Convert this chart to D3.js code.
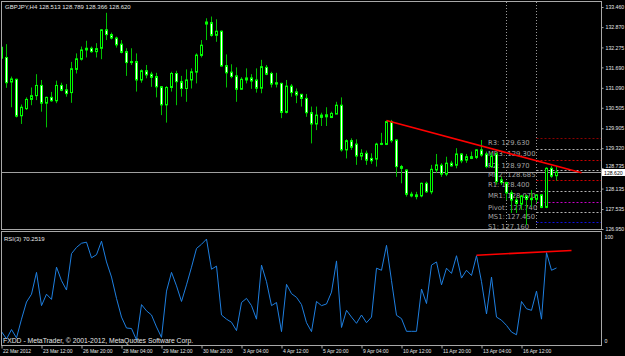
<!DOCTYPE html>
<html><head><meta charset="utf-8">
<script src="https://cdn.jsdelivr.net/npm/d3@7"></script>
<style>html,body{margin:0;padding:0;background:#000;overflow:hidden}svg{display:block}</style>
</head><body><svg id="c" width="625" height="356"></svg>
<script>
// ---------------- DATA ----------------
const title = "GBPJPY,H4 128.513 128.789 128.366 128.620";
const rsiTitle = "RSI(3) 70.2519";
const copyright = "FXDD - MetaTrader, \u00A9 2001-2012, MetaQuotes Software Corp.";

const opens = [
132.28,131.98,131.26,131.34,130.27,130.48,130.75,130.86,131.16,130.64,
130.81,130.71,131.16,131.03,130.95,131.63,131.93,132.20,132.25,132.15,
132.25,132.79,132.65,132.55,132.37,132.15,131.83,131.86,131.32,131.59,
131.49,131.42,131.12,130.59,131.10,131.51,131.27,131.07,131.32,131.55,
132.04,132.96,133.00,132.63,132.75,131.74,131.55,131.44,131.05,131.32,
131.38,131.32,131.08,131.69,131.51,131.20,131.22,130.37,131.14,130.97,
130.90,130.78,130.36,130.03,130.29,130.24,130.22,130.32,130.58,129.27,
129.54,129.44,129.09,129.17,129.02,129.00,129.43,129.43,130.10,129.56,
128.78,128.68,127.97,127.95,127.92,128.29,128.04,128.68,128.82,128.56,
128.88,128.82,129.15,128.97,129.07,129.05,129.27,129.15,128.78,129.15,
128.39,128.31,128.01,127.80,127.68,127.92,127.85,127.82,127.95,127.585,
128.73,128.513];
const highs = [
132.32,132.37,131.42,131.36,130.60,130.81,131.10,131.49,131.32,130.83,
130.97,131.30,131.24,131.20,131.85,132.10,132.30,132.47,132.30,132.40,
132.81,133.29,132.71,132.59,132.49,132.25,132.25,132.10,131.63,131.76,
131.56,131.53,131.14,131.14,131.56,131.59,131.44,131.63,131.66,132.10,
132.49,133.13,133.18,133.10,132.77,132.07,131.78,131.69,131.40,131.66,
131.49,131.66,131.91,131.76,131.56,131.53,131.24,131.32,131.20,131.07,
130.91,130.91,130.54,130.54,130.36,130.52,130.39,130.68,130.81,129.58,
129.61,129.58,129.29,129.25,129.17,129.48,129.77,130.13,130.15,129.58,
128.83,128.70,128.04,128.04,128.31,128.34,128.83,129.15,128.88,129.07,
128.95,129.32,129.17,129.15,129.22,129.29,129.56,129.22,129.20,129.20,
128.48,128.34,128.09,127.89,127.95,127.95,128.09,127.97,127.97,128.76,
128.80,128.789];
const lows = [
131.88,131.09,130.52,130.22,130.03,130.44,130.58,130.73,130.39,129.93,
130.68,130.64,130.99,130.83,130.65,131.51,131.89,131.98,132.12,131.98,
131.93,132.49,132.51,132.27,132.10,131.44,131.76,130.98,131.24,131.37,
131.12,130.81,130.29,130.07,130.98,130.58,130.83,130.68,131.07,131.22,
131.98,132.49,132.59,132.44,131.71,131.10,131.37,130.68,131.03,131.22,
131.06,130.95,130.93,131.46,131.10,131.10,130.20,130.34,130.83,130.64,
130.54,130.24,129.46,129.85,129.97,129.97,130.20,130.32,129.22,129.02,
129.27,128.83,128.97,128.83,128.86,128.78,129.41,129.41,129.48,128.48,
128.29,127.90,127.88,127.82,127.88,128.01,127.97,128.60,128.48,128.50,
128.78,128.73,128.88,128.89,129.00,129.00,129.07,128.73,128.75,128.25,
128.24,127.80,127.42,127.42,127.51,127.07,127.60,127.71,127.56,127.56,
128.45,128.366];
const closes = [
131.96,131.24,131.35,130.26,130.52,130.75,130.86,131.16,130.64,130.81,
130.71,131.16,131.02,130.92,131.65,131.94,132.20,132.25,132.15,132.24,
132.79,132.65,132.55,132.35,132.13,131.83,131.86,131.32,131.59,131.47,
131.40,131.12,130.59,131.10,131.51,131.27,131.07,131.32,131.56,132.05,
132.34,133.02,132.63,132.75,131.73,131.53,131.42,131.05,131.34,131.38,
131.29,131.08,131.71,131.49,131.20,131.24,130.37,131.14,130.95,130.88,
130.78,130.36,130.03,130.29,130.225,130.30,130.34,130.58,129.27,129.54,
129.35,129.09,129.17,128.97,128.95,129.44,129.46,130.10,129.54,128.78,
128.73,127.97,127.92,127.90,128.29,128.04,128.70,128.83,128.56,128.88,
128.80,129.15,128.95,129.07,129.02,129.27,129.12,128.78,129.09,128.34,
128.31,128.01,127.80,127.70,127.92,127.82,127.81,127.95,127.585,128.73,
128.50,128.620];
const rsiValues = [
9,2,11,3,21,37.5,45,66,34,45,
40,71,58,49,84,90,94,95,80,83,
96,76,61.5,41,23,12.5,12,1,35,29,
25,13.5,3.5,48,66,53,38,54,71,89,
93,98,69,72,25,21,18,10,37,41,
34,21,73,57,34,37,9,54.5,45.5,42,
35,17.6,9,38,34,35.6,47,77,13,29.5,
23,17,25,17.6,23,70,68,92,58,24.7,
21.5,9.3,9.3,9.3,50,36,73,76,54,70,
65,82,60.5,68,63,82,57,26,61.5,23,
20,15,8.6,6,38,31,29.5,48,21,85,
68,70.2519];

const timeLabels = ["22 Mar 2012","23 Mar 12:00","26 Mar 20:00","28 Mar 04:00","29 Mar 12:00","30 Mar 20:00","3 Apr 04:00","4 Apr 12:00","5 Apr 20:00","9 Apr 04:00","10 Apr 12:00","11 Apr 20:00","13 Apr 04:00","16 Apr 12:00"];
const timeLabelBars = [0,8,16,24,32,40,48,56,64,72,80,88,96,104];
const priceTicks = [133.460,132.870,132.275,131.690,131.090,130.505,129.905,129.320,128.735,128.135,127.535,126.950];
const rsiTicks = [100,0];
const lastPrice = 128.620;

const pivotNames = ["R3","MR3","R2","MR2","R1","MR1","Pivot","MS1","S1"];
const pivotValues = [129.630,129.300,128.970,128.685,128.400,128.070,127.740,127.450,127.160];
const pivotStartBar = 107;
const daySeparatorBars = [101,107];

const trendMain = [[77,130.13],[116,128.60]];
const trendRsi = [[95,82.5],[114,87]];

// ---------------- STYLE ----------------
const pivotColors = {R3:"#8b0000",MR3:"#b4b4b4",R2:"#c80000",MR2:"#b4b4b4",R1:"#d00000",MR1:"#b4b4b4",Pivot:"#c800c8",MS1:"#b4b4b4",S1:"#1010e0"};
const FG = "#e6e6e6", FRAME = "#a8a8a8";
const font = "'Liberation Sans', Arial, sans-serif";

// ---------------- CHART ----------------
const svg = d3.select("#c");
svg.append("rect").attr("width",625).attr("height",356).attr("fill","#000");

const n = closes.length;
const x = d3.scaleLinear().domain([0, n-1]).range([1.5, 1.5 + 5*(n-1)]);
const y = d3.scaleLinear().domain([126.95, 133.46]).range([229, 7]);
const yR = d3.scaleLinear().domain([0, 100]).range([341, 237]);

const defs = svg.append("defs");
defs.append("clipPath").attr("id","mainClip").append("rect").attr("x",2).attr("y",2).attr("width",599).attr("height",227);
defs.append("clipPath").attr("id","rsiClip").append("rect").attr("x",2).attr("y",233).attr("width",599).attr("height",112);

// frames
svg.append("rect").attr("x",1.5).attr("y",1.5).attr("width",600).attr("height",228).attr("fill","none").attr("stroke",FRAME);
svg.append("rect").attr("x",1.5).attr("y",231.5).attr("width",600).attr("height",114).attr("fill","none").attr("stroke",FRAME);

const main = svg.append("g").attr("clip-path","url(#mainClip)");

// day separators (dotted vertical)
main.selectAll("line.sep").data(daySeparatorBars).join("line")
  .attr("x1",d=>x(d)).attr("x2",d=>x(d)).attr("y1",2).attr("y2",229)
  .attr("stroke","#9a9a9a").attr("stroke-dasharray","1,2");

// pivot lines
const piv = pivotNames.map((k,i)=>({name:k, v:pivotValues[i]}));
main.selectAll("line.piv").data(piv).join("line")
  .attr("x1",x(pivotStartBar)).attr("x2",601)
  .attr("y1",d=>Math.round(y(d.v))+0.5).attr("y2",d=>Math.round(y(d.v))+0.5)
  .attr("stroke",d=>pivotColors[d.name]).attr("stroke-dasharray","2,2");
main.selectAll("text.piv").data(piv).join("text")
  .attr("x",488).attr("y",d=>y(d.v)+7.5)
  .attr("fill","#a0a0a0").attr("font-family","'DejaVu Sans', sans-serif").attr("font-size",6.8)
  .text(d=>d.name + ": " + d3.format(".3f")(d.v));

// bid line
main.append("line").attr("x1",2).attr("x2",601).attr("y1",Math.round(y(lastPrice))+0.5).attr("y2",Math.round(y(lastPrice))+0.5)
  .attr("stroke","#a0a0a0");

// candles
const bars = d3.range(n).map(i=>({i,o:opens[i],h:highs[i],l:lows[i],c:closes[i]}));
const cg = main.append("g");
cg.selectAll("line.wick").data(bars).join("line")
  .attr("x1",d=>x(d.i)).attr("x2",d=>x(d.i))
  .attr("y1",d=>y(d.h)).attr("y2",d=>y(d.l))
  .attr("stroke","#00c000").attr("stroke-width",1);
cg.selectAll("rect.body").data(bars).join("rect")
  .attr("x",d=>x(d.i)-1).attr("width",2)
  .attr("y",d=>Math.min(y(d.o),y(d.c)))
  .attr("height",d=>Math.max(0.6,Math.abs(y(d.o)-y(d.c))))
  .attr("fill",d=>d.c>=d.o?"#000":"#ffffff")
  .attr("stroke","#00ff00").attr("stroke-width",1);

// trend line main
main.append("line")
  .attr("x1",x(trendMain[0][0])).attr("y1",y(trendMain[0][1]))
  .attr("x2",x(trendMain[1][0])).attr("y2",y(trendMain[1][1]))
  .attr("stroke","#ff0000").attr("stroke-width",1.6);

// title
svg.append("text").attr("x",5).attr("y",9).attr("fill",FG).attr("font-family",font).attr("font-size",6).text(title);

// right price axis
const yAxis = d3.axisRight(y).tickValues(priceTicks).tickFormat(d3.format(".3f")).tickSize(2).tickPadding(2);
const ya = svg.append("g").attr("transform","translate(601.5,0)").call(yAxis);
ya.select(".domain").remove();
ya.selectAll("line").attr("stroke",FRAME);
ya.selectAll("text").attr("fill",FG).attr("font-family",font).attr("font-size",5.2)
  .attr("dy",d=>d===128.735?"-0.1em":"0.32em");

// last price box
const lpY = Math.round(y(lastPrice));
svg.append("rect").attr("x",602).attr("y",lpY-3).attr("width",23).attr("height",7).attr("fill","#fff");
svg.append("text").attr("x",604).attr("y",lpY+2.5).attr("fill","#000").attr("font-family",font).attr("font-size",5.2).text(d3.format(".3f")(lastPrice));

// RSI panel
const rg = svg.append("g").attr("clip-path","url(#rsiClip)");
rg.append("path").datum(rsiValues)
  .attr("d", d3.line().x((d,i)=>x(i)).y(d=>yR(d)))
  .attr("fill","none").attr("stroke","#1e7fe0").attr("stroke-width",1);
rg.append("line")
  .attr("x1",x(trendRsi[0][0])).attr("y1",yR(trendRsi[0][1]))
  .attr("x2",x(trendRsi[1][0])).attr("y2",yR(trendRsi[1][1]))
  .attr("stroke","#ff0000").attr("stroke-width",1.6);

svg.append("text").attr("x",4).attr("y",241).attr("fill",FG).attr("font-family",font).attr("font-size",6).text(rsiTitle);
svg.append("text").attr("x",3).attr("y",342.5).attr("fill",FG).attr("font-family",font).attr("font-size",6.8).text(copyright);

const rAxis = d3.axisRight(yR).tickValues(rsiTicks).tickFormat(d3.format("d")).tickSize(0).tickPadding(3);
const ra = svg.append("g").attr("transform","translate(601.5,0)").call(rAxis);
ra.select(".domain").remove();
ra.selectAll("text").attr("fill",FG).attr("font-family",font).attr("font-size",5.2);

// time axis
const xAxis = d3.axisBottom(x).tickValues(timeLabelBars).tickFormat((d,i)=>timeLabels[i]).tickSize(3).tickPadding(1);
const xa = svg.append("g").attr("transform","translate(0,345.5)").call(xAxis);
xa.select(".domain").remove();
xa.selectAll("line").attr("stroke",FRAME);
xa.selectAll("text").attr("fill",FG).attr("font-family",font).attr("font-size",5).attr("text-anchor","start").attr("dx",1);
</script></body></html>
